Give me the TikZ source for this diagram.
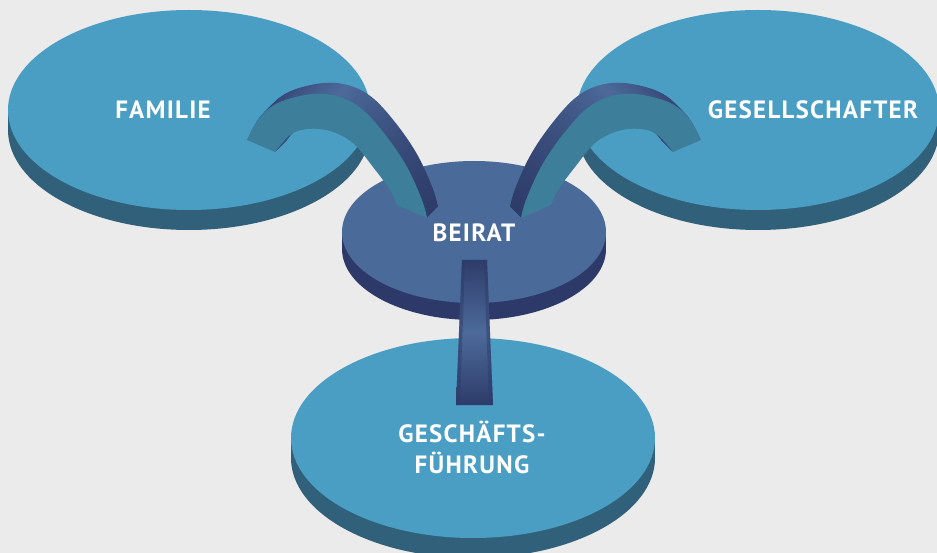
\documentclass[tikz,border=0pt]{standalone}
\usepackage{fontspec}
\setmainfont[LetterSpace=5]{PT Sans}
\definecolor{bg}{HTML}{EBEBEB}
\definecolor{lface}{HTML}{4A9DC3}
\definecolor{lside}{HTML}{31617A}
\definecolor{mface}{HTML}{4A6B99}
\definecolor{mside}{HTML}{2D3A69}
\definecolor{archface}{HTML}{3D7F9A}
\definecolor{archdark}{HTML}{2E3C6A}
\definecolor{archlight}{HTML}{4C6A9A}
\begin{document}
\begin{tikzpicture}[x=1pt,y=-1pt,
  lbl/.style={text=white, font=\bfseries\fontsize{25}{31}\selectfont, inner sep=0pt},
  archL/.style={insert path={
    plot[smooth,tension=0.6] coordinates {(247,140) (260,117) (280,102) (313,94) (340,97) (363,110) (387,137) (407,167) (422,200) (427,218)}
    -- plot[smooth,tension=0.6] coordinates {(397,205) (390,190) (373,167) (353,143) (330,131) (307,129) (290,135) (275,152)}
    -- cycle}},
  archback/.style={left color=archdark, right color=archdark, middle color=archlight}
]
\useasboundingbox[fill=bg] (0,0) rectangle (937,553);
\begin{scope}
\clip (0,0) rectangle (937,553);
% left disk
\fill[lside] (189,130) ellipse [x radius=181pt, y radius=100pt];
\fill[lside] (8,110) rectangle (370,130);
\fill[lface] (189,110) ellipse [x radius=181pt, y radius=100pt];
% right disk
\fill[lside] (758,130) ellipse [x radius=181pt, y radius=100pt];
\fill[lside] (577,110) rectangle (939,130);
\fill[lface] (758,110) ellipse [x radius=181pt, y radius=100pt];
% bottom disk
\fill[lside] (473,458) ellipse [x radius=182pt, y radius=100pt];
\fill[lside] (291,438) rectangle (655,458);
\fill[lface] (473,438) ellipse [x radius=182pt, y radius=100pt];
% middle disk
\fill[mside] (474,249) ellipse [x radius=132pt, y radius=71pt];
\fill[mside] (342,232) rectangle (606,249);
\fill[mface] (474,232) ellipse [x radius=132pt, y radius=71pt];
% left arch
\foreach \k in {11,10.5,...,0.5} {
  \shade[shift={(\k,-\k)}, archback, archL];
}
\fill[archface, archL];
% right arch (mirror)
\begin{scope}[shift={(948,0)}, xscale=-1]
\foreach \k in {11,10.5,...,0.5} {
  \shade[shift={(\k,-\k)}, archback, archL];
}
\fill[archface, archL];
\end{scope}
% stem
\shade[top color=archdark, bottom color=archdark, middle color=archlight]
  (462,260) -- (487,260) -- (493,405) -- (456,405) -- cycle;
\fill[archdark, opacity=0.5] (462,260) -- (465,260) -- (460,405) -- (456,405) -- cycle;
\fill[archdark, opacity=0.5] (484,260) -- (487,260) -- (493,405) -- (489,405) -- cycle;
\end{scope}
\node[lbl, anchor=base] (fam) at (163,119) {FAMILIE};
\node[lbl, anchor=base] (ges) at (813,119) {GESELLSCHAFTER};
\node[lbl, anchor=base] (bei) at (474,242) {BEIRAT};
\node[lbl, anchor=base, align=center] (gf) at (472,473) {GESCHÄFTS-\\FÜHRUNG};
\end{tikzpicture}
\end{document}
